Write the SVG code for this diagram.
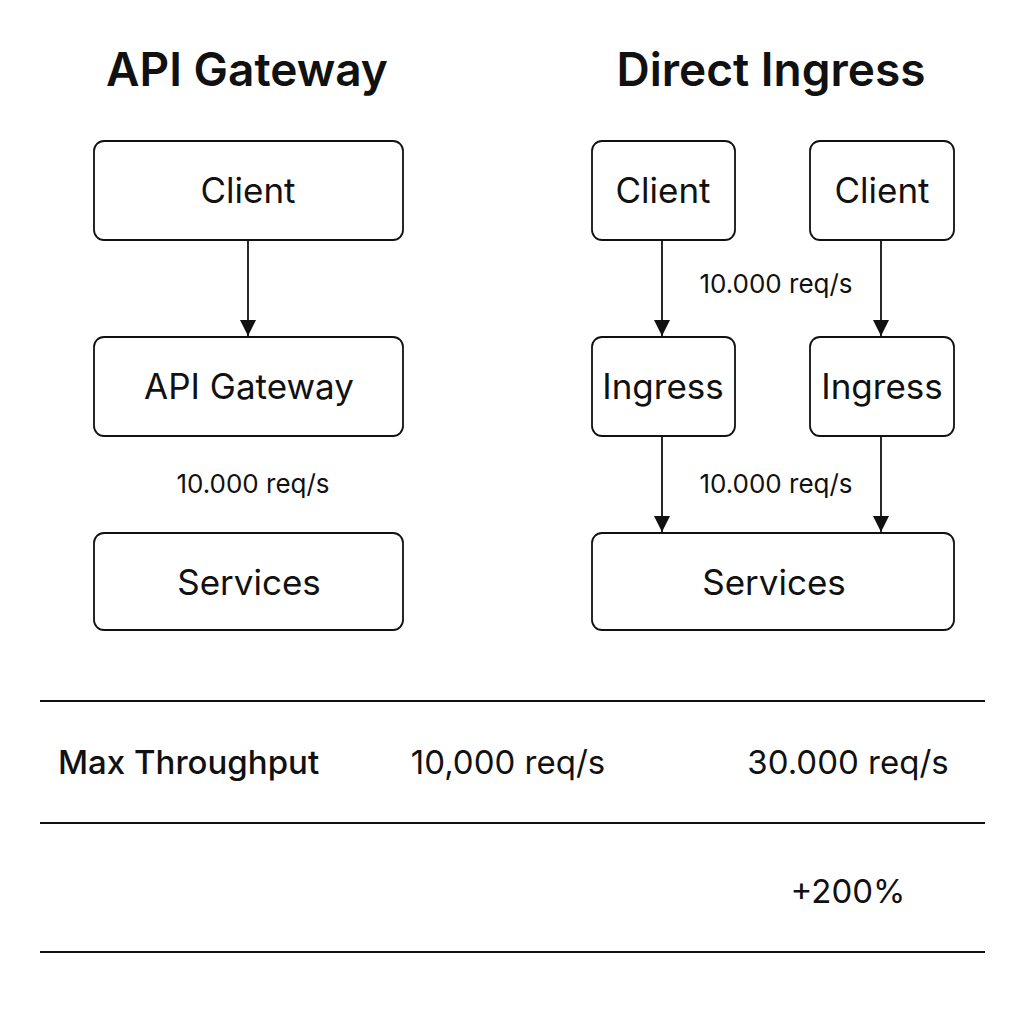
<svg xmlns="http://www.w3.org/2000/svg" width="1024" height="1024" viewBox="0 0 1024 1024">
<style>
text{font-family:Inter,"Noto Sans","Liberation Sans",sans-serif;fill:#111;}
.title{font-size:46px;font-weight:600;text-anchor:middle;}
.box rect{fill:#fff;stroke:#111;stroke-width:1.8;}
.box text{font-size:35px;text-anchor:middle;}
.lbl{font-size:26px;text-anchor:middle;}
.conn line{stroke:#111;stroke-width:1.8;}
.rule{stroke:#111;stroke-width:1.8;}
.tbl{font-size:33px;}
</style>
<defs>
<marker id="ah" viewBox="0 0 10 10" refX="10" refY="5" markerWidth="16" markerHeight="16" markerUnits="userSpaceOnUse" orient="auto">
<path d="M0,0 L10,5 L0,10 z" fill="#111"/>
</marker>
</defs>
<rect width="1024" height="1024" fill="#fff"/>
<text class="title" x="247" y="86">API Gateway</text>
<text class="title" x="771" y="86">Direct Ingress</text>

<g id="l-client" class="box"><rect x="94" y="141" width="309" height="99" rx="10"/><text x="248" y="203">Client</text></g>
<g id="l-gateway" class="box"><rect x="94" y="337" width="309" height="99" rx="10"/><text x="249" y="399">API Gateway</text></g>
<g id="l-services" class="box"><rect x="94" y="533" width="309" height="97" rx="10"/><text x="249" y="595">Services</text></g>

<g id="r-client1" class="box"><rect x="592" y="141" width="143" height="99" rx="10"/><text x="663" y="203">Client</text></g>
<g id="r-client2" class="box"><rect x="810" y="141" width="144" height="99" rx="10"/><text x="882" y="203">Client</text></g>
<g id="r-ingress1" class="box"><rect x="592" y="337" width="143" height="99" rx="10"/><text x="663" y="399">Ingress</text></g>
<g id="r-ingress2" class="box"><rect x="810" y="337" width="144" height="99" rx="10"/><text x="882" y="399">Ingress</text></g>
<g id="r-services" class="box"><rect x="592" y="533" width="362" height="97" rx="10"/><text x="774" y="595">Services</text></g>

<g id="connectors" class="conn">
<line x1="248" y1="240" x2="248" y2="336" marker-end="url(#ah)"/>
<line x1="662" y1="240" x2="662" y2="336" marker-end="url(#ah)"/>
<line x1="881" y1="240" x2="881" y2="336" marker-end="url(#ah)"/>
<line x1="662" y1="436" x2="662" y2="532" marker-end="url(#ah)"/>
<line x1="881" y1="436" x2="881" y2="532" marker-end="url(#ah)"/>
</g>
<text class="lbl" x="253" y="493">10.000 req/s</text>
<text class="lbl" x="776" y="293">10.000 req/s</text>
<text class="lbl" x="776" y="493">10.000 req/s</text>

<line class="rule" x1="40" y1="701" x2="985" y2="701"/>
<line class="rule" x1="40" y1="823" x2="985" y2="823"/>
<line class="rule" x1="40" y1="952" x2="985" y2="952"/>
<text class="tbl" x="58" y="774" font-weight="500">Max Throughput</text>
<text class="tbl" x="508" y="774" text-anchor="middle">10,000 req/s</text>
<text class="tbl" x="848" y="774" text-anchor="middle">30.000 req/s</text>
<text class="tbl" x="848" y="903" text-anchor="middle">+200%</text>
</svg>
